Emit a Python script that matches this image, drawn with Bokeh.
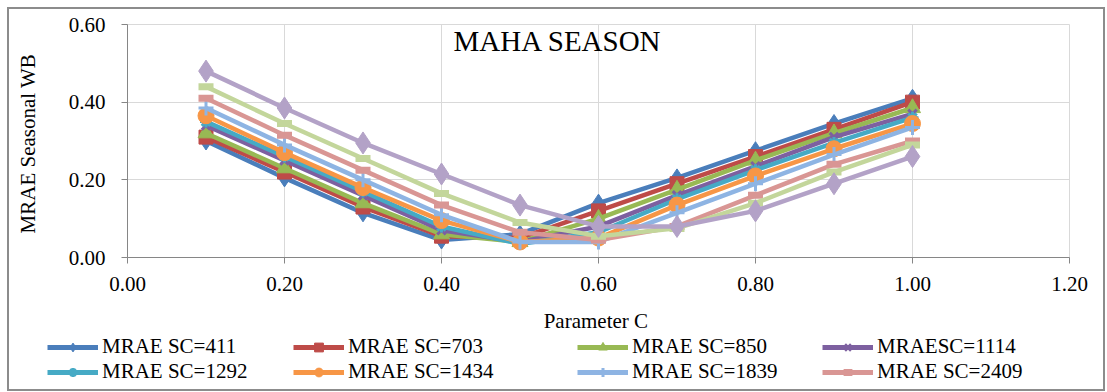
from bokeh.plotting import figure
from bokeh.layouts import column
from bokeh.models import Legend, LegendItem, Label, NumeralTickFormatter, Range1d, FixedTicker
from bokeh.embed import file_html
from bokeh.resources import INLINE

C = [0.1, 0.2, 0.3, 0.4, 0.5, 0.6, 0.7, 0.8, 0.9, 1.0]

sc411  = [0.300, 0.205, 0.115, 0.045, 0.060, 0.140, 0.205, 0.275, 0.345, 0.410]
sc703  = [0.310, 0.220, 0.130, 0.055, 0.050, 0.120, 0.190, 0.260, 0.330, 0.400]
sc850  = [0.320, 0.230, 0.140, 0.060, 0.040, 0.100, 0.175, 0.250, 0.320, 0.385]
sc1114 = [0.340, 0.250, 0.160, 0.070, 0.040, 0.080, 0.160, 0.235, 0.310, 0.370]
sc1292 = [0.350, 0.260, 0.170, 0.080, 0.035, 0.065, 0.150, 0.225, 0.295, 0.360]
sc1434 = [0.365, 0.270, 0.180, 0.095, 0.040, 0.050, 0.135, 0.210, 0.280, 0.345]
sc1839 = [0.385, 0.290, 0.200, 0.110, 0.040, 0.040, 0.115, 0.190, 0.265, 0.335]
sc2409 = [0.410, 0.315, 0.225, 0.135, 0.065, 0.045, 0.080, 0.160, 0.240, 0.300]
sc_9   = [0.440, 0.345, 0.255, 0.165, 0.090, 0.055, 0.075, 0.140, 0.220, 0.290]
sc_10  = [0.480, 0.385, 0.295, 0.215, 0.135, 0.080, 0.080, 0.120, 0.190, 0.260]

labels = ["MRAE SC=411", "MRAE SC=703", "MRAE SC=850", "MRAESC=1114",
          "MRAE SC=1292", "MRAE SC=1434", "MRAE SC=1839", "MRAE SC=2409"]

FONT = "Liberation Serif"

p = figure(width=1094, height=326, output_backend="svg", toolbar_location=None,
           x_range=Range1d(0, 1.2), y_range=Range1d(0, 0.6),
           min_border_left=118, min_border_right=34, min_border_top=15, min_border_bottom=75)

series = [
    (sc411,  "#4A7EBB", "diamond", 18, labels[0]),
    (sc703,  "#BE4B48", "square", 14, labels[1]),
    (sc850,  "#98B954", "triangle", 16, labels[2]),
    (sc1114, "#7D60A0", "x", 12, labels[3]),
    (sc1292, "#46AAC5", "asterisk", 12, labels[4]),
    (sc1434, "#F79646", "circle", 16, labels[5]),
    (sc1839, "#8EB4E3", "cross", 15, labels[6]),
    (sc2409, "#D99694", "dash", 15, labels[7]),
    (sc_9,   "#C3D69B", "dash", 15, None),
    (sc_10,  "#B3A2C7", "diamond", 22, None),
]

def draw(fig, xs, ys, col, mk, sz, lw=4.5):
    r1 = fig.line(xs, ys, line_color=col, line_width=lw)
    if mk in ("x", "asterisk", "cross", "dash"):
        r2 = fig.scatter(xs, ys, marker=mk, size=sz, line_color=col,
                         line_width=3 if mk != "dash" else 7, fill_color=col)
    else:
        r2 = fig.scatter(xs, ys, marker=mk, size=sz, line_color=col, fill_color=col)
    return [r1, r2]

for ys, col, mk, sz, lab in series:
    draw(p, C, ys, col, mk, sz)

p.xaxis.ticker = FixedTicker(ticks=[0, 0.2, 0.4, 0.6, 0.8, 1.0, 1.2])
p.yaxis.ticker = FixedTicker(ticks=[0, 0.2, 0.4, 0.6])
p.xaxis.formatter = NumeralTickFormatter(format="0.00")
p.yaxis.formatter = NumeralTickFormatter(format="0.00")
p.xaxis.axis_label = "Parameter  C"
p.yaxis.axis_label = "MRAE Seasonal  WB"
for ax in (p.xaxis, p.yaxis):
    ax.major_label_text_font = FONT
    ax.major_label_text_font_size = "21px"
    ax.major_label_text_color = "#000000"
    ax.axis_label_text_font = FONT
    ax.axis_label_text_font_style = "normal"
    ax.axis_label_text_font_size = "21px"
    ax.axis_label_text_color = "#000000"
    ax.axis_line_color = "#868686"
    ax.major_tick_line_color = "#868686"
    ax.minor_tick_line_color = None
    ax.major_tick_in = 0
    ax.major_tick_out = 6
p.xaxis.major_label_standoff = 13
p.xaxis.axis_label_standoff = 15
p.yaxis.major_label_standoff = 16
p.yaxis.axis_label_standoff = 26

p.grid.grid_line_color = "#D9D9D9"
p.outline_line_color = "#D9D9D9"

p.add_layout(Label(x=326, y=217, x_units="screen", y_units="screen", text="MAHA  SEASON",
                   text_font=FONT, text_font_size="29px", text_color="#000000",
                   text_baseline="middle"))

# legend panel (series drawn off-range so only the legend glyphs show)
q = figure(width=1094, height=54, output_backend="svg", toolbar_location=None,
           x_range=Range1d(10, 11), y_range=Range1d(10, 11),
           min_border_left=0, min_border_right=0, min_border_top=0, min_border_bottom=0)
q.frame_align = False
q.axis.visible = False
q.grid.visible = False
q.outline_line_color = None

rends = {}
for ys, col, mk, sz, lab in series:
    if lab:
        rends[lab] = draw(q, C, ys, col, mk, sz * 0.85, lw=5)

col_x = [47, 293, 577, 822]
for i, cx in enumerate(col_x):
    its = [LegendItem(label=labels[i], renderers=rends[labels[i]]),
           LegendItem(label=labels[i + 4], renderers=rends[labels[i + 4]])]
    lg = Legend(items=its, orientation="vertical", location=(cx - 9, 5),
                label_text_font=FONT, label_text_font_size="21px", label_text_color="#000000",
                glyph_width=51, glyph_height=22, label_height=22, spacing=0,
                label_standoff=4, padding=0, margin=0, border_line_color=None,
                background_fill_alpha=0)
    q.add_layout(lg, "center")

layout = column(p, q, spacing=0, margin=(7, 0, 0, 7),
                styles={"border": "2px solid #8c8c8c"})

open("out.html", "w").write(file_html(layout, INLINE))
